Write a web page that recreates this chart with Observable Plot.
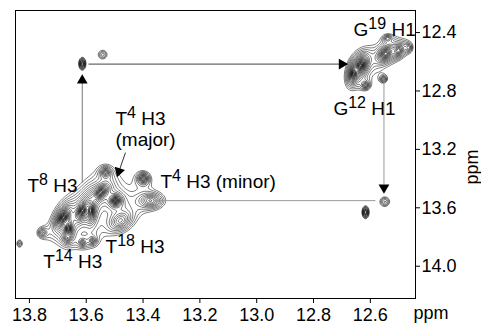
<!DOCTYPE html>
<html>
<head>
<meta charset="utf-8">
<script src="https://cdn.jsdelivr.net/npm/d3@7"></script>
<script src="https://cdn.jsdelivr.net/npm/@observablehq/plot@0.6"></script>
<style>
  html, body { margin: 0; padding: 0; background: #fff; }
  #chart svg { display: block; }
</style>
</head>
<body>
<div id="chart"></div>
<script>
// ---- Peak list (ppm) ----
const peakX   = [13.754, 13.680, 13.663, 13.613, 13.585, 13.550, 13.497, 13.532, 13.399, 13.374, 13.480, 13.666, 13.613, 13.578, 13.835,
                 12.635, 12.658, 12.546, 12.501, 12.617, 12.554, 12.539, 12.465,
                 13.614, 13.542, 12.617, 12.549];
const peakY   = [13.770, 13.667, 13.742, 13.619, 13.619, 13.496, 13.551, 13.359, 13.400, 13.551, 13.688, 13.811, 13.838, 13.825, 13.845,
                 12.626, 12.680, 12.544, 12.523, 12.760, 12.718, 12.441, 12.503,
                 12.614, 12.551, 13.631, 13.558];
const peakAmp = [0.20, 2.5, 1.5, 2.5, 1.5, 1.5, 1.5, 0.4, 0.5, 0.35, 0.35, 0.25, 0.25, 0.25, 0.14,
                 2.5, 1.5, 1.0, 0.5, 0.30, 0.22, 0.20, 0.20,
                 0.45, 0.16, 0.45, 0.18];
const peakSx  = [0.0123, 0.0077, 0.0056, 0.0077, 0.0056, 0.0106, 0.0077, 0.0106, 0.0106, 0.0280, 0.0280, 0.0088, 0.0088, 0.0088, 0.0106,
                 0.0077, 0.0056, 0.0123, 0.0123, 0.0088, 0.0088, 0.0106, 0.0088,
                 0.0063, 0.0176, 0.0063, 0.0176];
const peakSy  = [0.0240, 0.0205, 0.0205, 0.0205, 0.0274, 0.0205, 0.0150, 0.0205, 0.0205, 0.0340, 0.0480, 0.0171, 0.0171, 0.0171, 0.0274,
                 0.0205, 0.0205, 0.0240, 0.0240, 0.0171, 0.0171, 0.0171, 0.0205,
                 0.0219, 0.0342, 0.0219, 0.0342];
const peakRho = [0, 0.5, 0, 0.5, 0, 0.5, 0, 0, 0, 0, 0.3, 0, 0, 0, 0,
                 0.4, 0.3, 0.4, 0.3, 0, 0, 0, 0,
                 0, 0, 0, 0];

// ---- Axis ticks ----
const xTicks = [13.8, 13.6, 13.4, 13.2, 13.0, 12.8, 12.6];
const yTicks = [12.4, 12.8, 13.2, 13.6, 14.0];

// ---- Labels (left / middle anchor, ppm) ; ^n marks a superscript ----
const labelText = ["G^19 H1", "G^12 H1", "T^4 H3", "(major)", "T^4 H3 (minor)", "T^8 H3", "T^14 H3", "T^18 H3"];
const labelX    = [12.659, 12.730, 13.497, 13.497, 13.339, 13.807, 13.751, 13.532];
const labelY    = [12.379, 12.921, 12.989, 13.133, 13.421, 13.451, 13.968, 13.866];

// ---- Connecting lines (ppm) ----
const lineX1 = [13.614, 13.592, 12.552, 13.363, 13.462];
const lineY1 = [13.427, 12.616, 12.708, 13.551, 13.222];
const lineX2 = [13.614, 12.705, 12.552, 12.582, 13.482];
const lineY2 = [12.745, 12.616, 13.440, 13.551, 13.335];
const lineColor = ["#777", "#444", "#999", "#999", "#333"];
// arrow heads (ppm) and direction (degrees)
const headX   = [13.614, 12.700, 12.552, 13.485];
const headY   = [12.728, 12.616, 13.462, 13.350];
const headRot = [0, 90, 180, 198];

const lines = lineX1.map((d, i) => ({x1: d, y1: lineY1[i], x2: lineX2[i], y2: lineY2[i], c: lineColor[i]}));
const heads = headX.map((d, i) => ({x: d, y: headY[i], r: headRot[i]}));
const labels = labelText.map((t, i) => ({t, x: labelX[i], y: labelY[i]}));

// Lorentzian-like peak shapes
function spectrum(x, y) {
  let s = 0;
  for (let i = 0; i < peakX.length; ++i) {
    const dx = (x - peakX[i]) / peakSx[i];
    const dy = (y - peakY[i]) / peakSy[i];
    const r = peakRho[i];
    const q = (dx * dx - 2 * r * dx * dy + dy * dy) / (1 - r * r);
    s += peakAmp[i] / (1 + q);
  }
  return s;
}
const levels = d3.range(25).map(k => 0.1 * Math.pow(1.16, k));

const chart = Plot.plot({
  width: 481,
  height: 325,
  marginLeft: 15,
  marginRight: 66,
  marginTop: 10,
  marginBottom: 27,
  style: {fontFamily: "'Liberation Sans', Arial, sans-serif", fontSize: "18px", color: "black", background: "white"},
  x: {domain: [13.849, 12.441]},
  y: {domain: [12.249, 14.221], reverse: true},
  marks: [
    Plot.contour({
      value: spectrum,
      x1: 13.849, x2: 12.441, y1: 12.249, y2: 14.221,
      thresholds: levels,
      pixelSize: 1,
      fill: "none",
      stroke: "black",
      strokeWidth: 0.5
    }),
    Plot.link(lines, {x1: "x1", y1: "y1", x2: "x2", y2: "y2", stroke: "c", strokeWidth: 1}),
    Plot.dot(heads, {x: "x", y: "y", rotate: "r", symbol: "triangle", r: 4, fill: "black", stroke: "none"}),
    Plot.text(labels, {x: "x", y: "y", text: "t", textAnchor: "start", lineAnchor: "middle", fontSize: 19, fill: "black", className: "ann"}),
    Plot.frame({stroke: "black", strokeWidth: 1}),
    Plot.axisX({anchor: "bottom", ticks: xTicks, tickFormat: d3.format(".1f"), tickSize: 5, tickPadding: 5, label: null}),
    Plot.axisY({anchor: "right", ticks: yTicks, tickFormat: d3.format(".1f"), tickSize: 4, tickPadding: 2, label: null}),
    Plot.text(["ppm"], {frameAnchor: "bottom-right", textAnchor: "start", lineAnchor: "top", dx: -2, dy: 8}),
    Plot.text(["ppm"], {frameAnchor: "right", rotate: -90, dx: 57, dy: -5})
  ]
});
document.getElementById("chart").appendChild(chart);

// superscripts for labels
d3.select(chart).selectAll("g.ann text").each(function() {
  const raw = this.textContent;
  const m = raw.match(/^([^\^]*)\^(\d+)(.*)$/);
  if (!m) return;
  const el = d3.select(this);
  el.text(null);
  el.append("tspan").text(m[1]);
  el.append("tspan").attr("dy", "-7").attr("font-size", 16).text(m[2]);
  el.append("tspan").attr("dy", "7").text(m[3]);
});
</script>
</body>
</html>
